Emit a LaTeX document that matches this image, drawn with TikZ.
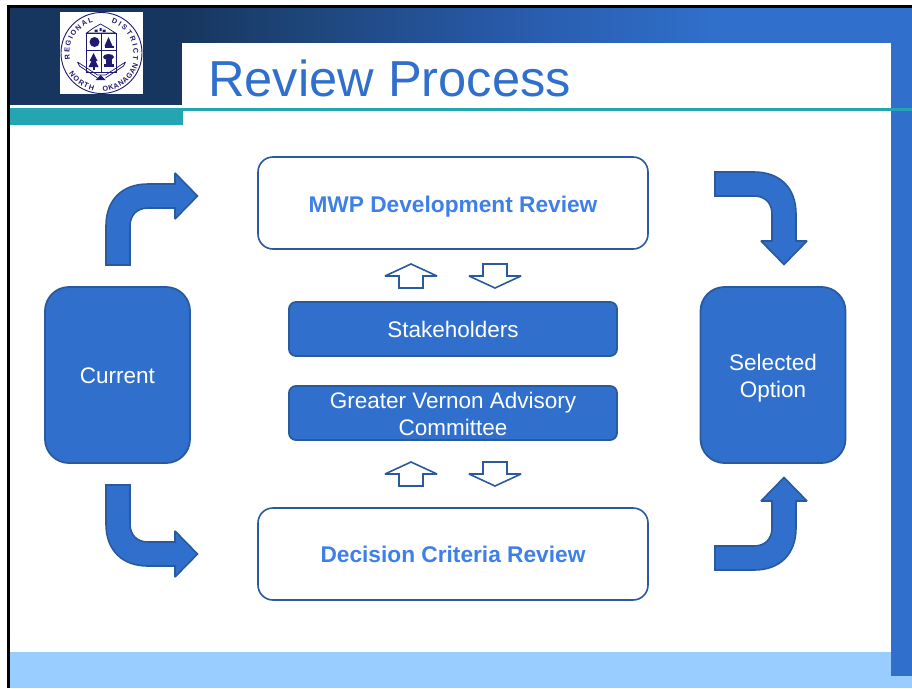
\documentclass[tikz,border=0pt]{standalone}
\usepackage{fontspec}
\setmainfont{Liberation Sans}
\usetikzlibrary{decorations.text}
\definecolor{hdark}{HTML}{17365F}
\definecolor{hmid}{HTML}{1D4578}
\definecolor{hmid2}{HTML}{2859A8}
\definecolor{bluefill}{HTML}{3070CC}
\definecolor{bluedge}{HTML}{2A5A9E}
\definecolor{teal}{HTML}{23A5B2}
\definecolor{pale}{HTML}{99CCFF}
\definecolor{labelblue}{HTML}{3F7FEA}
\definecolor{navy}{HTML}{1E1A70}
\newcommand{\lift}[1]{\rule{0pt}{#1}}
\tikzset{
  band/.style={fill=#1,draw=none},
  solidbox/.style={draw=bluedge,line width=1.8pt,fill=bluefill,text=white,align=center,font=\fontsize{22.5}{27}\selectfont,inner sep=0pt},
  openbox/.style={draw=bluedge,line width=1.6pt,fill=white,rounded corners=15pt,minimum width=390pt,minimum height=92pt,text=labelblue,font=\fontsize{22.7}{27}\selectfont\bfseries,inner sep=0pt,text depth=0pt},
  bigarrow/.style={draw=bluedge,line width=1.6pt,fill=bluefill,line join=miter,miter limit=2},
  smallarrow/.style={draw=bluedge,line width=1.6pt,fill=white,line join=miter,miter limit=2.5},
  crest/.style={draw=navy,line width=0.7pt},
  ringtext/.style={decorate,decoration={text along path,text align=fit to path,text={|\fontsize{7.2}{8}\selectfont\bfseries\color{navy}|#1}}}
}
\begin{document}
\begin{tikzpicture}[x=1pt,y=-1pt]
\useasboundingbox (0,0) rectangle (912,688);
\fill[white] (0,0) rectangle (912,688);
% frame bands
\fill[band=pale] (10,652) rectangle (912,688);
\shade[left color=hdark,right color=hmid] (182,8) rectangle (300,43);
\shade[left color=hmid,right color=hmid2] (299.5,8) rectangle (500,43);
\shade[left color=hmid2,right color=bluefill] (499.5,8) rectangle (720,43);
\fill[bluefill] (719.5,8) rectangle (912,43);
\fill[white] (182,43) rectangle (891,108);
\fill[band=hdark] (10,8) rectangle (182,105);
\fill[bluefill] (891,43) rectangle (912,676);
\fill[band=teal] (183,108) rectangle (912,111);
\fill[band=teal] (10,108) rectangle (183,125);
\fill[black] (7,5) rectangle (912,8);
\fill[black] (7,5) rectangle (10,688);
% logo
\fill[white] (60,12) rectangle (143,94);
\begin{scope}[shift={(101.5,53)},y=1pt]
  \draw[crest,line width=0.9pt] (0,0) circle (40.5);
  \path[ringtext={REGIONAL}] (192:32) arc (192:105:32);
  \path[ringtext={DISTRICT}] (72:32) arc (72:-12:32);
  \path[ringtext={NORTH}] (212:38.5) arc (212:258:38.5);
  \path[ringtext={OKANAGAN}] (272:38.5) arc (272:342:38.5);
  % roof
  \draw[crest] (-15,20) -- (-8,25) -- (-1,29) -- (6,25) -- (14,20) -- cycle;
  \fill[navy] (-7,23.5) rectangle (-4,21) (1,23.5) rectangle (4,21) (-2,25) rectangle (0,22);
  % shield
  \draw[crest] (-15,20) rectangle (15,-19);
  \draw[crest] (0,20) -- (0,-19) (-15,3) -- (15,3);
  % apple
  \fill[navy] (-7,11) circle (5);
  % sail
  \fill[navy] (7,16) -- (11,7) -- (3,7) -- cycle;
  \fill[navy] (3,5.5) rectangle (12,7);
  % tree
  \fill[navy] (-8,0) -- (-4,-8) -- (-6,-8) -- (-3,-14) -- (-13,-14) -- (-10,-8) -- (-12,-8) -- cycle;
  \fill[navy] (-9,-14) rectangle (-7,-17);
  % mushroom
  \fill[navy] (7,-4) ellipse (5.5 and 3);
  \fill[navy] (4,-6) rectangle (10,-11);
  \fill[navy] (2,-11) rectangle (12,-14);
  % hands
  \draw[crest] (-24,-9) -- (-4,-22) -- (4,-22) -- (24,-9) (-24,-9) -- (-22,-13) -- (-4,-25) (24,-9) -- (22,-13) -- (4,-25);
  \fill[navy] (-6,-27) -- (-1,-22) -- (4,-27) -- cycle;
\end{scope}
% title
\node[anchor=base west,inner sep=0pt,text=bluefill,font=\fontsize{50.6}{55}\selectfont] (title) at (208,96) {Review Process};
% boxes
\node[openbox,text height=18pt] (mwp) at (453,203) {MWP Development Review};
\node[openbox,text height=16pt] (dec) at (453,554) {Decision Criteria Review};
\node[solidbox,rounded corners=7pt,minimum width=328pt,minimum height=54pt] (stk) at (453,329) {\lift{17.5pt}Stakeholders};
\node[solidbox,rounded corners=7pt,minimum width=328pt,minimum height=54pt] (gv) at (453,413) {\lift{18.5pt}Greater Vernon Advisory\\Committee};
\node[solidbox,rounded corners=24pt,minimum width=145pt,minimum height=176pt] (cur) at (117.5,375) {\lift{17.5pt}Current};
\node[solidbox,rounded corners=24pt,minimum width=145pt,minimum height=176pt] (sel) at (773,375) {\lift{22.5pt}Selected\\Option};
% big arrows
\draw[bigarrow] (106,265) -- (106,226) .. controls (106,200) and (122,184) .. (148,184) -- (175,184) -- (175,173) -- (197.5,196) -- (175,219) -- (175,208) -- (148,208) .. controls (137,208) and (130,215) .. (130,226) -- (130,265) -- cycle;
\draw[bigarrow] (106,485) -- (106,524) .. controls (106,550) and (122,566) .. (148,566) -- (175,566) -- (175,577) -- (197.5,554) -- (175,531) -- (175,542) -- (148,542) .. controls (137,542) and (130,535) .. (130,524) -- (130,485) -- cycle;
\draw[bigarrow] (715,172) -- (754,172) .. controls (780,172) and (796,188) .. (796,214) -- (796,241) -- (807,241) -- (784,264.5) -- (761,241) -- (772,241) -- (772,214) .. controls (772,203) and (765,196) .. (754,196) -- (715,196) -- cycle;
\draw[bigarrow] (715,570) -- (754,570) .. controls (780,570) and (796,554) .. (796,528) -- (796,501) -- (807,501) -- (784,477.5) -- (761,501) -- (772,501) -- (772,528) .. controls (772,539) and (765,546) .. (754,546) -- (715,546) -- cycle;
% small arrows
\draw[smallarrow] (399,288) -- (399,276) -- (385,276) -- (411,264) -- (437,276) -- (423,276) -- (423,288) -- cycle;
\draw[smallarrow] (483,264) -- (507,264) -- (507,276) -- (521,276) -- (495,288) -- (469,276) -- (483,276) -- cycle;
\draw[smallarrow] (399,486) -- (399,474) -- (385,474) -- (411,462) -- (437,474) -- (423,474) -- (423,486) -- cycle;
\draw[smallarrow] (483,462) -- (507,462) -- (507,474) -- (521,474) -- (495,486) -- (469,474) -- (483,474) -- cycle;
\end{tikzpicture}
\end{document}
